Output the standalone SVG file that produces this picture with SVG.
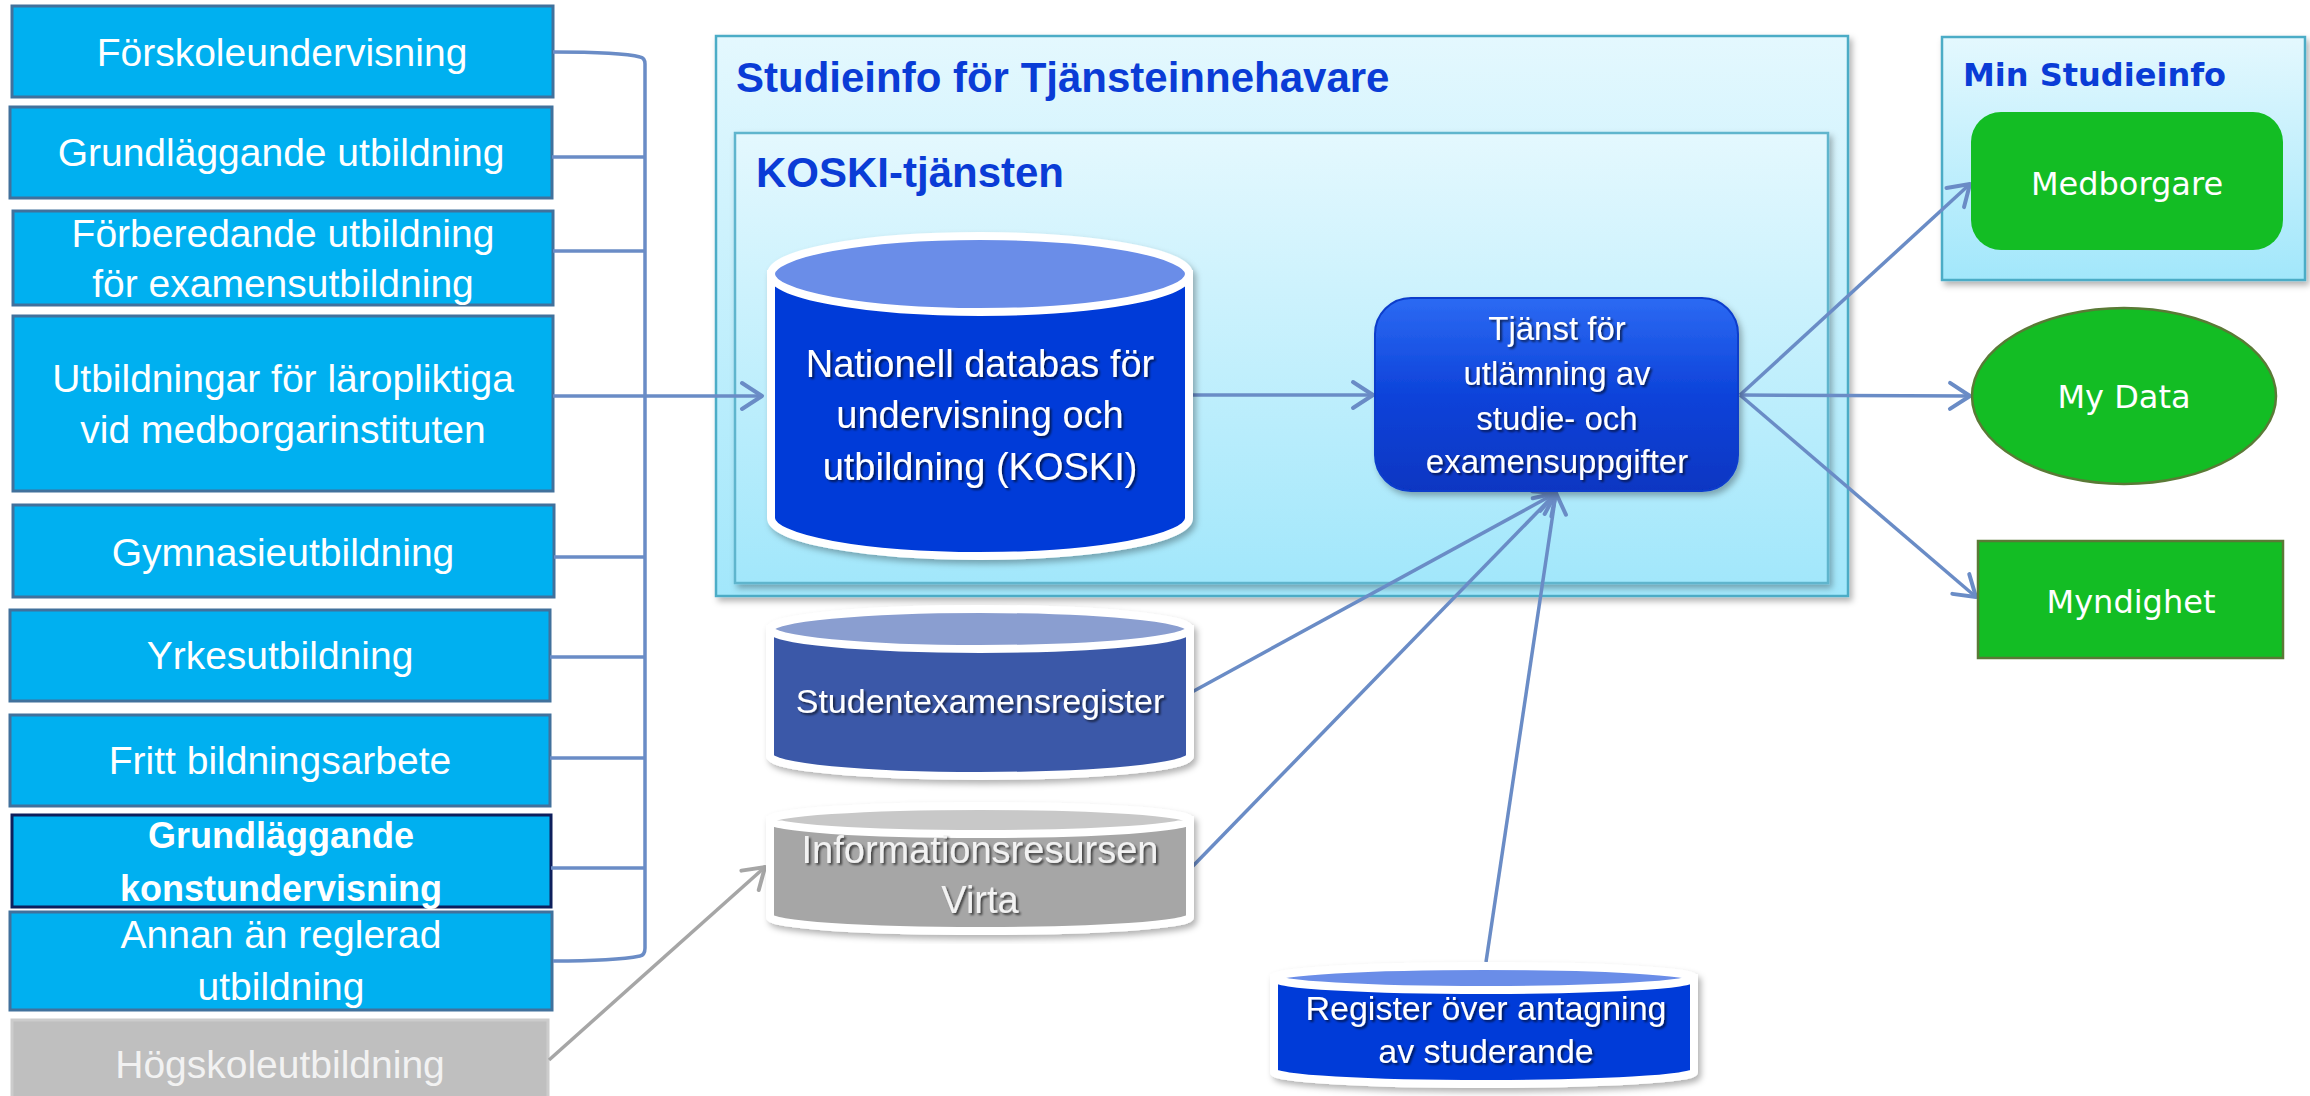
<svg xmlns="http://www.w3.org/2000/svg" width="2310" height="1096" viewBox="0 0 2310 1096">
<defs>
<style>
.lbox{fill:#00b0f0;stroke:#41719c;stroke-width:3}
.ltxt{font-family:"Liberation Sans",Arial,sans-serif;font-size:39px;fill:#ffffff;text-anchor:middle}
.btxt{font-family:"Liberation Sans",Arial,sans-serif;font-size:36px;font-weight:bold;fill:#ffffff;text-anchor:middle}
.title{font-family:"Liberation Sans",Arial,sans-serif;font-size:42px;font-weight:bold;fill:#0a3cd6}
.wtxt{font-family:"Liberation Sans",Arial,sans-serif;fill:#ffffff;text-anchor:middle}
.vtxt{font-family:"DejaVu Sans",Verdana,sans-serif;font-size:32px;fill:#ffffff;text-anchor:middle}
.green{fill:#13bd24}
.conn{fill:none;stroke:#6a8cc6;stroke-width:3.5}
.arr{fill:none;stroke:#6a8cc6;stroke-width:3.5;marker-end:url(#ah)}
.cylw{stroke:#ffffff;stroke-width:8}
</style>
<linearGradient id="cont" x1="0" y1="0" x2="0" y2="1">
<stop offset="0" stop-color="#e4f8fe"/>
<stop offset="1" stop-color="#a2e7fb"/>
</linearGradient>
<linearGradient id="gloss" x1="0" y1="0" x2="0" y2="1">
<stop offset="0" stop-color="#2c6af3"/>
<stop offset="0.5" stop-color="#0d43da"/>
<stop offset="1" stop-color="#0736c2"/>
</linearGradient>
<filter id="sh" x="-10%" y="-10%" width="120%" height="120%">
<feDropShadow dx="3" dy="4" stdDeviation="3" flood-color="#000" flood-opacity="0.3"/>
</filter>
<filter id="tsh" x="-10%" y="-20%" width="120%" height="140%">
<feDropShadow dx="2" dy="2" stdDeviation="1.2" flood-color="#000" flood-opacity="0.6"/>
</filter>
<marker id="ah" markerUnits="userSpaceOnUse" viewBox="-24 -16 28 32" markerWidth="28" markerHeight="32" refX="0" refY="0" orient="auto">
<path d="M-20,-13 L0,0 L-20,13" fill="none" stroke="#6a8cc6" stroke-width="4" stroke-linecap="round" stroke-linejoin="round"/>
</marker>
<marker id="ahg" markerUnits="userSpaceOnUse" viewBox="-24 -16 28 32" markerWidth="28" markerHeight="32" refX="0" refY="0" orient="auto">
<path d="M-20,-13 L0,0 L-20,13" fill="none" stroke="#a6a6a6" stroke-width="4" stroke-linecap="round" stroke-linejoin="round"/>
</marker>
</defs>
<rect width="2310" height="1096" fill="#ffffff"/>

<!-- containers -->
<g id="studieinfo-tjansteinnehavare">
<rect x="716" y="36" width="1132" height="560" fill="url(#cont)" stroke="#4bacc6" stroke-width="2.5" filter="url(#sh)"/>
<text class="title" x="736" y="92">Studieinfo för Tjänsteinnehavare</text>
</g>
<g id="koski-tjansten">
<rect x="735" y="133" width="1093" height="450" fill="url(#cont)" stroke="#5fb5cd" stroke-width="2.5" filter="url(#sh)"/>
<text class="title" x="756" y="187" font-size="40">KOSKI-tjänsten</text>
</g>
<g id="min-studieinfo">
<rect x="1942" y="37" width="363" height="243" fill="url(#cont)" stroke="#4bacc6" stroke-width="2.5" filter="url(#sh)"/>
<text x="1963" y="86" font-family="'DejaVu Sans',Verdana,sans-serif" font-size="32" font-weight="bold" fill="#0a3cd6">Min Studieinfo</text>
</g>

<!-- left boxes -->
<g id="forskoleundervisning"><rect class="lbox" x="12" y="6" width="541" height="91"/><text class="ltxt" x="282" y="66">Förskoleundervisning</text></g>
<g id="grundlaggande-utbildning"><rect class="lbox" x="10" y="107" width="542" height="91"/><text class="ltxt" x="281" y="166">Grundläggande utbildning</text></g>
<g id="forberedande"><rect class="lbox" x="13" y="211" width="540" height="94"/><text class="ltxt" x="283" y="247">Förberedande utbildning</text><text class="ltxt" x="283" y="297">för examensutbildning</text></g>
<g id="laropliktiga"><rect class="lbox" x="13" y="316" width="540" height="175"/><text class="ltxt" x="283" y="392">Utbildningar för läropliktiga</text><text class="ltxt" x="283" y="443">vid medborgarinstituten</text></g>
<g id="gymnasieutbildning"><rect class="lbox" x="13" y="505" width="541" height="92"/><text class="ltxt" x="283" y="566">Gymnasieutbildning</text></g>
<g id="yrkesutbildning"><rect class="lbox" x="10" y="610" width="540" height="91"/><text class="ltxt" x="280" y="669">Yrkesutbildning</text></g>
<g id="fritt-bildningsarbete"><rect class="lbox" x="10" y="715" width="540" height="91"/><text class="ltxt" x="280" y="774">Fritt bildningsarbete</text></g>
<g id="konstundervisning"><rect x="12" y="815" width="539" height="92" fill="#00b0f0" stroke="#0d1f5c" stroke-width="3"/><text class="btxt" x="281" y="848">Grundläggande</text><text class="btxt" x="281" y="901">konstundervisning</text></g>
<g id="annan-an-reglerad"><rect class="lbox" x="10" y="912" width="542" height="98"/><text class="ltxt" x="281" y="948">Annan än reglerad</text><text class="ltxt" x="281" y="1000">utbildning</text></g>
<g id="hogskoleutbildning"><rect x="12" y="1020" width="536" height="90" fill="#bfbfbf" stroke="#cccccc" stroke-width="3"/><text class="ltxt" x="280" y="1078" fill="#f2f2f2" style="fill:#f2f2f2">Högskoleutbildning</text></g>

<!-- connectors -->
<g id="connectors">
<path class="conn" d="M553,52 C590,52 625,53 640,57 Q645,58 645,64 L645,948 Q645,955 640,956 C625,959 590,961 553,961"/>
<line class="conn" x1="552" y1="157" x2="645" y2="157"/>
<line class="conn" x1="553" y1="251" x2="645" y2="251"/>
<line class="conn" x1="554" y1="557" x2="645" y2="557"/>
<line class="conn" x1="550" y1="657" x2="645" y2="657"/>
<line class="conn" x1="550" y1="758" x2="645" y2="758"/>
<line class="conn" x1="551" y1="868" x2="645" y2="868"/>
<line class="arr" x1="553" y1="396" x2="762" y2="396"/>
<line class="arr" x1="1192" y1="395" x2="1373" y2="395"/>
<line class="arr" x1="1740" y1="395" x2="1970" y2="184"/>
<line class="arr" x1="1740" y1="395" x2="1970" y2="396"/>
<line class="arr" x1="1740" y1="395" x2="1976" y2="597"/>
<line class="arr" x1="1192" y1="692" x2="1556" y2="493"/>
<line class="arr" x1="1192" y1="867" x2="1556" y2="493"/>
<line class="arr" x1="1486" y1="962" x2="1556" y2="493"/>
<line x1="549" y1="1060" x2="765" y2="867" fill="none" stroke="#a6a6a6" stroke-width="3.5" marker-end="url(#ahg)"/>
</g>

<!-- KOSKI database -->
<g id="koski-db" filter="url(#sh)">
<path class="cylw" d="M771,274 V518 A209,38 0 0 0 1189,518 V274 Z" fill="#003ad8"/>
<ellipse class="cylw" cx="980" cy="274" rx="209" ry="38" fill="#6a8de8"/>
</g>
<g filter="url(#tsh)">
<text class="wtxt" x="980" y="377" font-size="38">Nationell databas för</text>
<text class="wtxt" x="980" y="428" font-size="38">undervisning och</text>
<text class="wtxt" x="980" y="480" font-size="38">utbildning (KOSKI)</text>
</g>

<!-- Tjanst -->
<g id="tjanst">
<rect x="1375" y="298" width="363" height="193" rx="36" fill="url(#gloss)" stroke="#0a3ccb" stroke-width="2" filter="url(#sh)"/>
<g filter="url(#tsh)">
<text class="wtxt" x="1557" y="340" font-size="33">Tjänst för</text>
<text class="wtxt" x="1557" y="385" font-size="33">utlämning av</text>
<text class="wtxt" x="1557" y="430" font-size="33">studie- och</text>
<text class="wtxt" x="1557" y="473" font-size="33">examensuppgifter</text>
</g>
</g>

<!-- Studentexamensregister -->
<g id="studentexamensregister">
<g filter="url(#sh)">
<path class="cylw" d="M770,629 V756 A210,20 0 0 0 1190,756 V629 Z" fill="#3a58a8"/>
<ellipse class="cylw" cx="980" cy="629" rx="210" ry="20" fill="#8a9ed0"/>
</g>
<text class="wtxt" x="980" y="713" font-size="34" filter="url(#tsh)">Studentexamensregister</text>
</g>

<!-- Virta -->
<g id="virta">
<g filter="url(#sh)">
<path class="cylw" d="M770,820 V917 A210,14 0 0 0 1190,917 V820 Z" fill="#a6a6a6"/>
<ellipse class="cylw" cx="980" cy="820" rx="210" ry="14" fill="#c8c8c8"/>
</g>
<g filter="url(#tsh)">
<text class="wtxt" x="980" y="863" font-size="38" style="fill:#f2f2f2">Informationsresursen</text>
<text class="wtxt" x="980" y="913" font-size="38" style="fill:#f2f2f2">Virta</text>
</g>
</g>

<!-- Register over antagning -->
<g id="register-antagning">
<g filter="url(#sh)">
<path class="cylw" d="M1274,978 V1072 A210,12 0 0 0 1694,1072 V978 Z" fill="#003ad8"/>
<ellipse class="cylw" cx="1484" cy="978" rx="210" ry="12" fill="#6a8de8"/>
</g>
<g filter="url(#tsh)">
<text class="wtxt" x="1486" y="1020" font-size="34">Register över antagning</text>
<text class="wtxt" x="1486" y="1063" font-size="34">av studerande</text>
</g>
</g>

<!-- right nodes -->
<g id="medborgare">
<rect class="green" x="1971" y="112" width="312" height="138" rx="30"/>
<text class="vtxt" x="2127" y="195">Medborgare</text>
</g>
<g id="my-data">
<ellipse class="green" cx="2124" cy="396" rx="152" ry="88" stroke="#5a7a36" stroke-width="2.5"/>
<text class="vtxt" x="2124" y="408">My Data</text>
</g>
<g id="myndighet">
<rect class="green" x="1978" y="541" width="305" height="117" stroke="#5a7a36" stroke-width="2.5"/>
<text class="vtxt" x="2131" y="613">Myndighet</text>
</g>
</svg>
